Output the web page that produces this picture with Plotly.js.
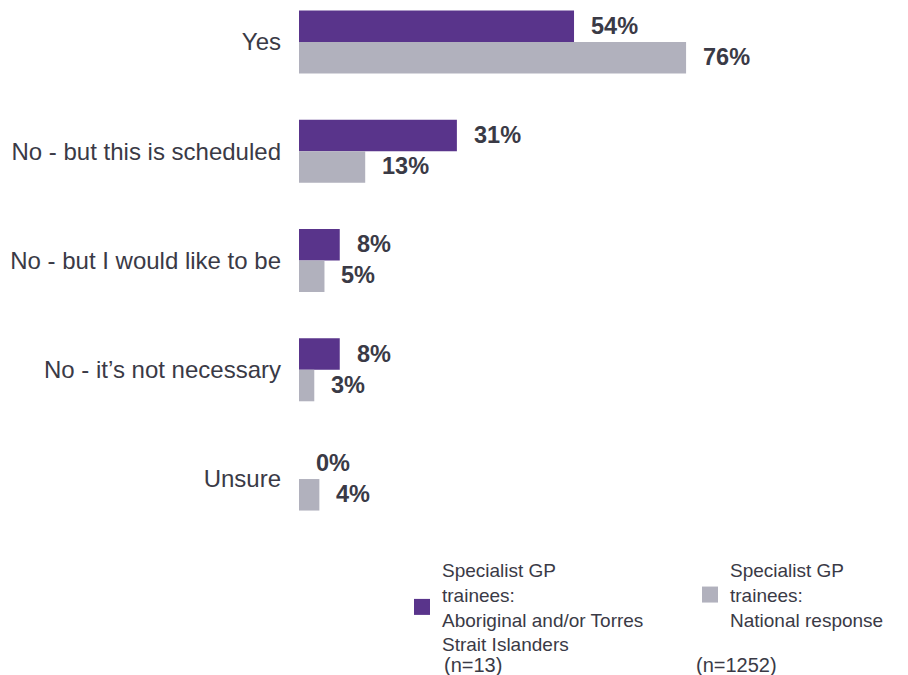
<!DOCTYPE html>
<html>
<head>
<meta charset="utf-8">
<script src="https://cdn.plot.ly/plotly-3.0.1.min.js"></script>
<style>html,body{margin:0;padding:0;background:#fff;}#chart{width:908px;height:675px;}</style>
</head>
<body>
<div id="chart"></div>
<script>
const categories = ["Yes", "No - but this is scheduled", "No - but I would like to be", "No - it\u2019s not necessary", "Unsure"];
const atsiValues = [54, 31, 8, 8, 0];
const nationalValues = [76, 13, 5, 3, 4];
const seriesNames = ["Specialist GP<br>trainees:<br>Aboriginal and/or Torres<br>Strait Islanders", "Specialist GP<br>trainees:<br>National response"];
const sampleLabels = ["(n=13)", "(n=1252)"];

const purple = "#59348B";
const grey = "#B1B1BD";
const textColor = "#3a3a46";
const font = "Liberation Sans, Arial, sans-serif";

const W = 908, H = 675;
const M = {l: 299, r: 8, t: 0, b: 135};
const plotW = W - M.l - M.r, plotH = H - M.t - M.b;

const traces = [
  {type: "bar", orientation: "h", y: categories, x: atsiValues, name: seriesNames[0],
   marker: {color: purple}, hoverinfo: "none", showlegend: false, legendgroup: "a"},
  {type: "bar", orientation: "h", y: categories, x: nationalValues, name: seriesNames[1],
   marker: {color: grey}, hoverinfo: "none", showlegend: false, legendgroup: "b"},
  // legend entries (larger square swatches, no data drawn)
  {type: "scatter", mode: "markers", x: [null], y: [null], name: seriesNames[0], legendgroup: "a",
   marker: {color: purple, symbol: "square", size: 20}, hoverinfo: "none"},
  {type: "scatter", mode: "markers", x: [null], y: [null], name: seriesNames[1], legendgroup: "b",
   marker: {color: grey, symbol: "square", size: 20}, hoverinfo: "none"}
];

const annotations = [];
[atsiValues, nationalValues].forEach((vals, s) => {
  vals.forEach((v, i) => {
    annotations.push({
      x: v, y: categories[i], xref: "x", yref: "y",
      text: "<b>" + v + "%</b>", showarrow: false,
      xanchor: "left", yanchor: "middle", xshift: 15, yshift: s === 0 ? 16 : -15,
      font: {family: font, size: 23.5, color: textColor}
    });
  });
});
// sample-size notes under the legend, positioned in pixels converted to paper fractions
[[442, 665, sampleLabels[0]], [694, 665, sampleLabels[1]]].forEach(([px, py, t]) => {
  annotations.push({x: (px - M.l) / plotW, y: (plotH - py) / plotH, xref: "paper", yref: "paper",
    text: t, showarrow: false, xanchor: "left", yanchor: "middle",
    font: {family: font, size: 20, color: textColor}});
});

const layout = {
  width: W, height: H,
  margin: {l: M.l, r: M.r, t: M.t, b: M.b, pad: 0},
  paper_bgcolor: "#ffffff", plot_bgcolor: "#ffffff",
  barmode: "group", bargap: 0.423, bargroupgap: 0,
  font: {family: font, color: textColor},
  xaxis: {range: [0, 118], showgrid: false, zeroline: false, showline: false, showticklabels: false, ticks: "", fixedrange: true},
  yaxis: {type: "category", range: [4.558, -0.384], showgrid: false, zeroline: false, showline: false, ticks: "",
          ticklabelstandoff: 17, tickfont: {family: font, size: 24, color: textColor}, fixedrange: true},
  showlegend: true,
  legend: {orientation: "h", xref: "container", yref: "container", x: 402 / W, y: 1 - 607 / H,
           xanchor: "left", yanchor: "middle", valign: "middle", entrywidth: 243, entrywidthmode: "pixels",
           itemsizing: "trace",
           font: {family: font, size: 19, color: textColor}, bgcolor: "rgba(0,0,0,0)"},
  annotations: annotations
};

Plotly.newPlot("chart", traces, layout, {displayModeBar: false, staticPlot: true});
</script>
</body>
</html>
